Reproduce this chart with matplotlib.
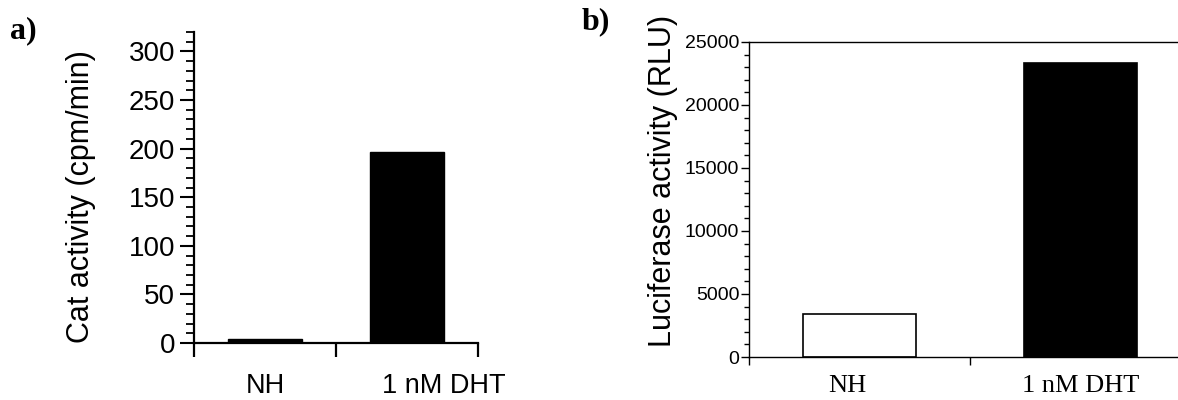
import matplotlib
matplotlib.use("Agg")
import matplotlib.pyplot as plt
import matplotlib.transforms as mtransforms
from matplotlib.ticker import MultipleLocator

# ---- data ----
categories = ["NH", "1 nM DHT"]
cat_activity = [4, 197]          # cpm/min
luc_activity = [3400, 23300]     # RLU
bar_colors = ["black", "black"]
bar_faces_b = ["white", "black"]

W, H = 1178, 400
fig = plt.figure(figsize=(W / 100, H / 100), dpi=100)

sans = ["Liberation Sans", "DejaVu Sans"]
serif = ["Liberation Serif", "DejaVu Serif"]

def px_axes(l, r, t, b):
    return [l / W, 1 - b / H, (r - l) / W, (b - t) / H]

# ---------------- panel a ----------------
axa = fig.add_axes(px_axes(194, 478, 32, 343))
xa = [0.5, 1.5]
axa.bar(xa, cat_activity, width=0.52, color=bar_colors, edgecolor="black", linewidth=1)
axa.set_xlim(0, 2)
axa.set_ylim(0, 320)
axa.spines[["top", "right"]].set_visible(False)
for s in ["left", "bottom"]:
    axa.spines[s].set_linewidth(1.6)
axa.yaxis.set_major_locator(MultipleLocator(50))
axa.yaxis.set_minor_locator(MultipleLocator(10))
axa.tick_params(axis="y", which="major", length=10, width=1.5, pad=3.5,
                labelsize=20)
axa.tick_params(axis="y", which="minor", length=6, width=1.3)
for lab in axa.get_yticklabels():
    lab.set_family(sans)
axa.set_xticks([0, 1, 2])
axa.set_xticklabels([])
axa.tick_params(axis="x", which="major", length=10, width=1.6)
axa.set_xticks(xa, minor=True)
axa.set_xticklabels(categories, minor=True, family=sans, fontsize=19.5)
axa.tick_params(axis="x", which="minor", length=0, pad=21.5)
# DHT label sits to the right of its bar in the original
lbls = axa.get_xticklabels(minor=True)
lbls[1].set_transform(lbls[1].get_transform() +
                      mtransforms.ScaledTranslation(0.37, 0, fig.dpi_scale_trans))
axa.set_ylabel("Cat activity (cpm/min)", family=sans, fontsize=22, va="center")
axa.yaxis.set_label_coords(-0.398, 0.47)

fig.text(10 / W, 1 - 38 / H, "a)", family=serif, fontweight="bold",
         fontsize=23, va="baseline", ha="left")

# ---------------- panel b ----------------
axb = fig.add_axes(px_axes(749, 1178, 42, 357))
xb = [0.5, 1.5]
axb.bar(xb, luc_activity, width=0.51, color=bar_faces_b, edgecolor="black",
        linewidth=1.2)
axb.set_xlim(0, (1178 - 749) / 221)
axb.set_ylim(0, 25000)
axb.spines["right"].set_visible(False)
for s in ["left", "bottom", "top"]:
    axb.spines[s].set_linewidth(1.0)
axb.yaxis.set_major_locator(MultipleLocator(5000))
axb.yaxis.set_minor_locator(MultipleLocator(1000))
axb.tick_params(axis="y", which="major", length=6, width=1.0, pad=1,
                labelsize=14)
axb.tick_params(axis="y", which="minor", length=3.5, width=1.0)
for lab in axb.get_yticklabels():
    lab.set_family(sans)
axb.set_xticks([0, 1])
axb.set_xticklabels([])
axb.tick_params(axis="x", which="major", length=6, width=1.0)
axb.set_xticks(xb, minor=True)
axb.set_xticklabels(categories, minor=True, family=serif, fontsize=19)
axb.tick_params(axis="x", which="minor", length=0, pad=13)
lb = axb.get_xticklabels(minor=True)
lb[0].set_transform(lb[0].get_transform() +
                    mtransforms.ScaledTranslation(-0.12, 0, fig.dpi_scale_trans))
axb.set_ylabel("Luciferase activity (RLU)", family=sans, fontsize=22, va="center")
axb.yaxis.set_label_coords(-0.2, 0.559)

fig.text(582 / W, 1 - 29 / H, "b)", family=serif, fontweight="bold",
         fontsize=23, va="baseline", ha="left")

fig.savefig("out.png", dpi=100)
